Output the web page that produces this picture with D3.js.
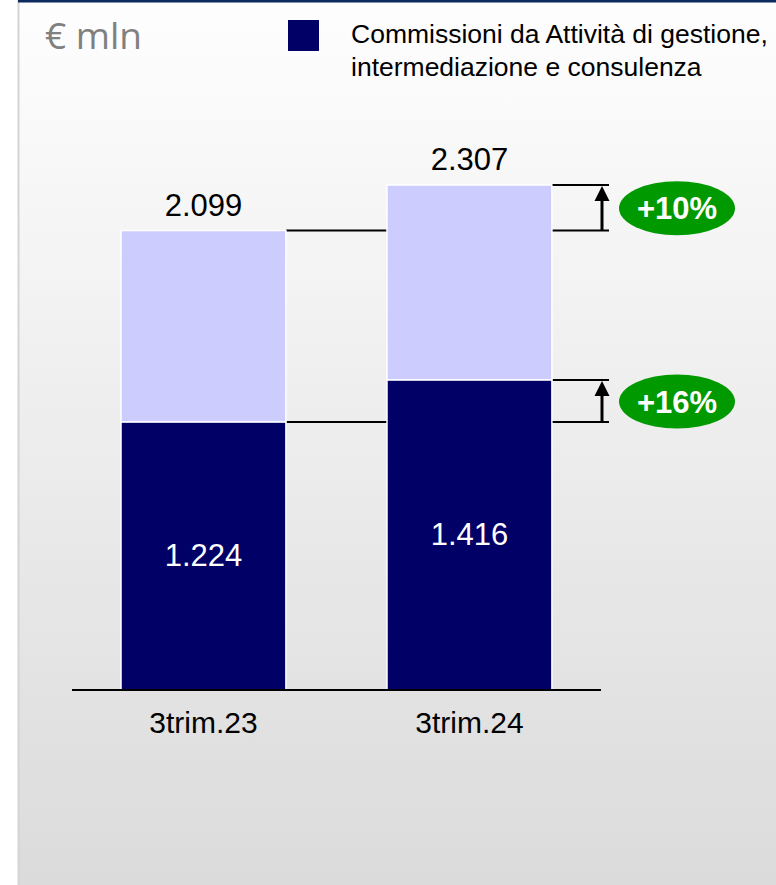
<!DOCTYPE html>
<html>
<head>
<meta charset="utf-8">
<script src="https://cdn.jsdelivr.net/npm/d3@7"></script>
<style>
  body { margin: 0; background: #fff; }
  text { font-family: "Liberation Sans", Arial, sans-serif; }
</style>
</head>
<body>
<div id="chart"></div>
<script>
// Data
const categories = ["3trim.23", "3trim.24"];
const commissioni = [1224, 1416];
const totals = [2099, 2307];
const growthLabels = ["+10%", "+16%"]; // total, commissioni
const legendLines = ["Commissioni da Attività di gestione,", "intermediazione e consulenza"];

const W = 776, H = 885;
const it = d3.formatLocale({ decimal: ",", thousands: ".", grouping: [3], currency: ["€", ""] });
const fmt = it.format(",d");

const svg = d3.select("#chart").append("svg")
  .attr("width", W).attr("height", H);

// Background panel with gradient
const defs = svg.append("defs");
const grad = defs.append("linearGradient").attr("id", "bg")
  .attr("x1", 0).attr("y1", 0).attr("x2", 0).attr("y2", 1);
grad.append("stop").attr("offset", "0%").attr("stop-color", "#fefefe");
grad.append("stop").attr("offset", "100%").attr("stop-color", "#dbdbdb");

svg.append("rect").attr("x", 18).attr("y", 0).attr("width", W - 18).attr("height", H)
  .attr("fill", "url(#bg)");
svg.append("line").attr("x1", 18.5).attr("x2", 18.5).attr("y1", 0).attr("y2", H)
  .attr("stroke", "#d4d4d4").attr("stroke-width", 2);
svg.append("rect").attr("x", 18).attr("y", 0).attr("width", W - 18).attr("height", 2.5)
  .attr("fill", "#0b2b5e");

// Unit
svg.append("text").attr("x", 45).attr("y", 49)
  .style("font-family", "'Open Sans', sans-serif")
  .attr("font-size", 36).attr("fill", "#808080")
  .attr("textLength", 97).attr("lengthAdjust", "spacingAndGlyphs")
  .text("€ mln");

// Legend
svg.append("rect").attr("x", 288).attr("y", 20).attr("width", 31).attr("height", 31)
  .attr("fill", "#000066");
svg.append("g").selectAll("text").data(legendLines).enter().append("text")
  .attr("x", 351).attr("y", (d, i) => 43 + i * 33)
  .attr("font-size", 26.5).attr("fill", "#000").text(d => d);

// Scales
const x = d3.scaleBand().domain(categories).range([54.5, 618.4])
  .paddingInner(0.38).paddingOuter(0.25);
const y = d3.scaleLinear().domain([0, 2307]).range([690, 185]);

const data = categories.map((c, i) => ({ cat: c, base: commissioni[i], total: totals[i] }));

// Connector lines (drawn first so bars sit on top)
const arrowX = 602, lineEnd = 609;
const conn = svg.append("g").attr("stroke", "#000").attr("stroke-width", 2);
["total", "base"].forEach(k => {
  data.forEach(d => {
    conn.append("line").attr("x1", x(d.cat) + x.bandwidth()).attr("x2", lineEnd)
      .attr("y1", y(d[k])).attr("y2", y(d[k]));
  });
});

// Bars
const bars = svg.append("g");
bars.selectAll(".top").data(data).enter().append("rect")
  .attr("x", d => x(d.cat)).attr("width", x.bandwidth())
  .attr("y", d => y(d.total)).attr("height", d => y(d.base) - y(d.total))
  .attr("fill", "#ccccff").attr("stroke", "#fff").attr("stroke-width", 1.5);
bars.selectAll(".bottom").data(data).enter().append("rect")
  .attr("x", d => x(d.cat)).attr("width", x.bandwidth())
  .attr("y", d => y(d.base)).attr("height", d => y(0) - y(d.base))
  .attr("fill", "#000066").attr("stroke", "#fff").attr("stroke-width", 1.5);

// Value labels
svg.append("g").selectAll("text").data(data).enter().append("text")
  .attr("x", d => x(d.cat) + x.bandwidth() / 2).attr("y", d => y(d.total) - 15)
  .attr("text-anchor", "middle").attr("font-size", 31).attr("fill", "#000")
  .text(d => fmt(d.total));
svg.append("g").selectAll("text").data(data).enter().append("text")
  .attr("x", d => x(d.cat) + x.bandwidth() / 2).attr("y", d => (y(d.base) + y(0)) / 2 + 10)
  .attr("text-anchor", "middle").attr("font-size", 31).attr("fill", "#fff")
  .text(d => fmt(d.base));

// Axis baseline and category labels
svg.append("line").attr("x1", 72).attr("x2", 601).attr("y1", 690).attr("y2", 690)
  .attr("stroke", "#000").attr("stroke-width", 2);
svg.append("g").selectAll("text").data(categories).enter().append("text")
  .attr("x", d => x(d) + x.bandwidth() / 2).attr("y", 733)
  .attr("text-anchor", "middle").attr("font-size", 30).attr("fill", "#000").text(d => d);

// Growth arrows and badges
const growth = [
  { from: data[0].total, to: data[1].total, label: growthLabels[0] },
  { from: data[0].base, to: data[1].base, label: growthLabels[1] }
];
growth.forEach(g => {
  const y0 = y(g.from), y1 = y(g.to) + 1;
  svg.append("line").attr("x1", arrowX).attr("x2", arrowX)
    .attr("y1", y0).attr("y2", y1 + 12)
    .attr("stroke", "#000").attr("stroke-width", 3);
  svg.append("path")
    .attr("d", `M${arrowX},${y1}L${arrowX + 7.5},${y1 + 15}L${arrowX - 7.5},${y1 + 15}Z`)
    .attr("fill", "#000");
  const cy = (y0 + y1) / 2;
  svg.append("ellipse").attr("cx", 677).attr("cy", cy).attr("rx", 58).attr("ry", 27)
    .attr("fill", "#009900");
  svg.append("text").attr("x", 677).attr("y", cy + 11)
    .attr("text-anchor", "middle").attr("font-size", 31).attr("font-weight", "bold")
    .attr("fill", "#fff").text(g.label);
});
</script>
</body>
</html>
